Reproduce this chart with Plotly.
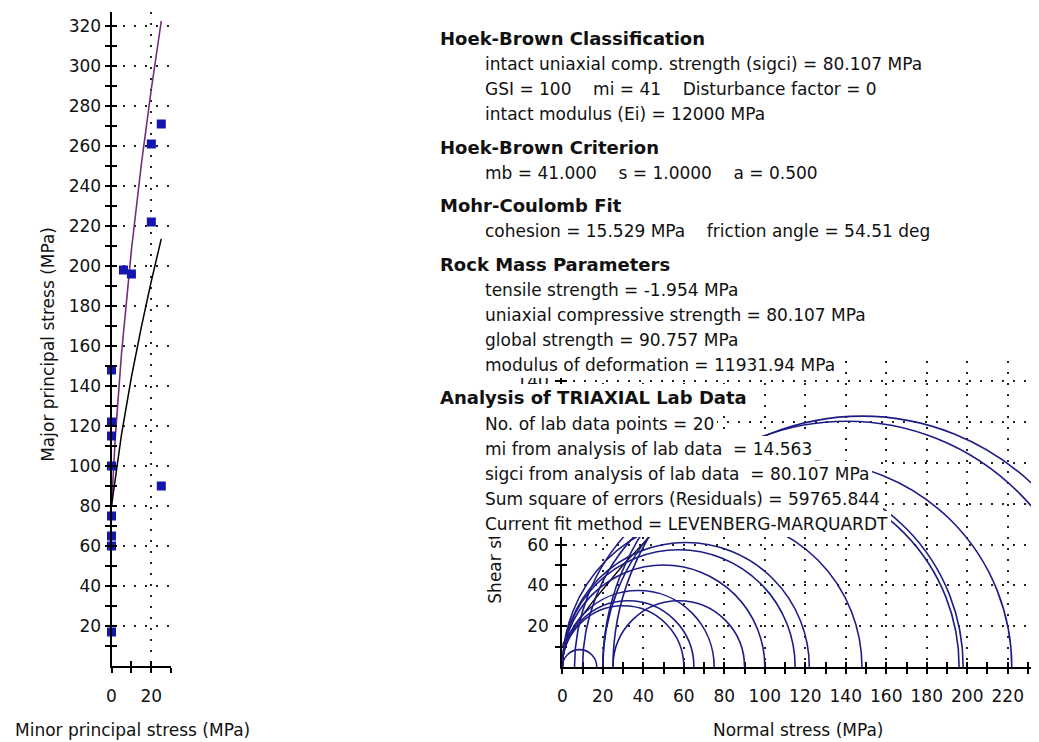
import plotly.graph_objects as go

W, H = 1039, 742
OX, OY = 8, 8  # the page body margin shifts the figure by this much

# triaxial lab data: minor / major principal stress (MPa)
sig3 = [0, 0, 0, 0, 0, 0, 0, 0, 6, 10, 25, 20, 20, 25]
sig1 = [17, 60, 65, 75, 100, 115, 122, 148, 198, 196, 90, 222, 261, 271]

# Hoek-Brown criterion curve (mb = 41)
hb_s3 = [0, 2, 5, 10, 15, 20, 25]
hb_s1 = [80.1, 116, 156, 208, 251, 288.5, 322.5]

# curve fitted to the lab data (mi = 14.563)
fit_s3 = [0, 2.5, 5, 10, 15, 20, 25]
fit_s1 = [80.1, 99, 115.7, 144.5, 169.6, 192.5, 213.6]

# failure envelope in the Mohr plot (normal, shear)
env_sn = [-1.5, 0, 6, 15, 30, 45]
env_tau = [8, 11, 20, 32, 50, 66]

info_heads = ["Hoek-Brown Classification", "Hoek-Brown Criterion", "Mohr-Coulomb Fit",
              "Rock Mass Parameters", "Analysis of TRIAXIAL Lab Data"]
S4 = "\u00a0" * 4
info_lines = [
    ["intact uniaxial comp. strength (sigci) = 80.107 MPa",
     "GSI = 100" + S4 + "mi = 41" + S4 + "Disturbance factor = 0",
     "intact modulus (Ei) = 12000 MPa"],
    ["mb = 41.000" + S4 + "s = 1.0000" + S4 + "a = 0.500"],
    ["cohesion = 15.529 MPa" + S4 + "friction angle = 54.51 deg"],
    ["tensile strength = -1.954 MPa", "uniaxial compressive strength = 80.107 MPa",
     "global strength = 90.757 MPa", "modulus of deformation = 11931.94 MPa"],
    ["No. of lab data points = 20", "mi from analysis of lab data\u00a0 = 14.563",
     "sigci from analysis of lab data\u00a0 = 80.107 MPa",
     "Sum square of errors (Residuals) = 59765.844",
     "Current fit method = LEVENBERG-MARQUARDT"],
]
head_y = [38, 147, 205, 264, 398]

PURPLE = "#762a7e"
BLUE = "#1414b0"
CIRCLE = "#1c1c86"
GRID = "#222222"
TXT = "#111111"


def px(x):
    return (x - OX) / W


def py(y):
    return 1 - (y - OY) / H


fig = go.Figure()

# left plot: principal stresses
fig.add_trace(go.Scatter(x=hb_s3, y=hb_s1, mode="lines", line=dict(color=PURPLE, width=1.6),
                         xaxis="x", yaxis="y", hoverinfo="skip"))
fig.add_trace(go.Scatter(x=fit_s3, y=fit_s1, mode="lines", line=dict(color="black", width=1.5),
                         xaxis="x", yaxis="y", hoverinfo="skip"))
fig.add_trace(go.Scatter(x=sig3, y=sig1, mode="markers",
                         marker=dict(symbol="square", size=9, color=BLUE, line=dict(width=0)),
                         xaxis="x", yaxis="y", cliponaxis=False))

# right plot: Mohr circles
fig.add_trace(go.Scatter(x=env_sn, y=env_tau, mode="lines", line=dict(color="black", width=1.3),
                         xaxis="x2", yaxis="y2", hoverinfo="skip"))
for s3, s1 in zip(sig3, sig1):
    r = (s1 - s3) / 2
    fig.add_shape(type="circle", xref="x2", yref="y2", x0=s3, x1=s1, y0=-r, y1=r,
                  line=dict(color=CIRCLE, width=1.6), layer="above")

# dummy traces so the overlay axes (inner half of the tick crosses) get drawn
fig.add_trace(go.Scatter(x=[None], y=[None], xaxis="x3", yaxis="y3", hoverinfo="skip"))
fig.add_trace(go.Scatter(x=[None], y=[None], xaxis="x4", yaxis="y4", hoverinfo="skip"))

base = dict(showline=True, linecolor="black", linewidth=2, ticks="outside", ticklen=5,
            tickwidth=1.5, tickcolor="black", showgrid=True, gridcolor=GRID, griddash="2px,9px",
            gridwidth=2, zeroline=False, tickfont=dict(size=17, color=TXT), fixedrange=True)
inner = dict(showline=False, ticks="inside", ticklen=5, tickwidth=1.5, tickcolor="black",
             showgrid=False, zeroline=False, showticklabels=False, fixedrange=True)

left_x = dict(range=[0, 30], tickvals=[0, 20])
left_xm = [10, 30]
left_y = dict(range=[0, 327], tickvals=list(range(20, 321, 20)))
left_ym = list(range(10, 321, 20))
right_x = dict(range=[0, 239.4], tickvals=list(range(0, 221, 20)))
right_xm = list(range(10, 236, 20))
right_y = dict(range=[0, 150], tickvals=list(range(20, 141, 20)))
right_ym = list(range(10, 141, 20))

dl_x = [px(107), px(167)]
dl_y = [py(666), py(12)]
dr_x = [px(560), 1.0]
dr_y = [py(667), py(361)]

fig.update_layout(
    width=W, height=H, margin=dict(l=0, r=0, t=0, b=0),
    plot_bgcolor="white", paper_bgcolor="white", showlegend=False,
    font=dict(family="DejaVu Sans", size=17, color=TXT),
    xaxis=dict(base, **left_x, domain=dl_x, anchor="y", ticklabelstandoff=9,
               minor=dict(tickvals=left_xm, ticks="outside", ticklen=5, tickcolor="black", showgrid=False)),
    yaxis=dict(base, **left_y, domain=dl_y, anchor="x",
               minor=dict(tickvals=left_ym, ticks="outside", ticklen=5, tickcolor="black", showgrid=False)),
    xaxis2=dict(base, **right_x, domain=dr_x, anchor="y2", ticklabelstandoff=8,
                minor=dict(tickvals=right_xm, ticks="outside", ticklen=5, tickcolor="black", showgrid=False)),
    yaxis2=dict(base, **right_y, domain=dr_y, anchor="x2", ticklabelstandoff=3,
                minor=dict(tickvals=right_ym, ticks="outside", ticklen=5, tickcolor="black", showgrid=False)),
    xaxis3=dict(inner, **left_x, overlaying="x", anchor="y3",
                minor=dict(tickvals=left_xm, ticks="inside", ticklen=5, tickcolor="black")),
    yaxis3=dict(inner, **left_y, overlaying="y", anchor="x3",
                minor=dict(tickvals=left_ym, ticks="inside", ticklen=5, tickcolor="black")),
    xaxis4=dict(inner, **right_x, overlaying="x2", anchor="y4",
                minor=dict(tickvals=right_xm, ticks="inside", ticklen=5, tickcolor="black")),
    yaxis4=dict(inner, **right_y, overlaying="y2", anchor="x4",
                minor=dict(tickvals=right_ym, ticks="inside", ticklen=5, tickcolor="black")),
)

# axis titles
fig.add_annotation(text="Major principal stress (MPa)", x=px(43), y=py(344), xref="paper", yref="paper",
                   textangle=-90, showarrow=False, xanchor="center", yanchor="middle")
fig.add_annotation(text="Minor principal stress (MPa)", x=px(10), y=py(730), xref="paper", yref="paper",
                   showarrow=False, xanchor="left", yanchor="middle", borderpad=0, borderwidth=0)
fig.add_annotation(text="Normal stress (MPa)", x=px(797), y=py(730), xref="paper", yref="paper",
                   showarrow=False, xanchor="center", yanchor="middle")
fig.add_annotation(text="Shear stress (MPa)", x=px(492), y=py(525), xref="paper", yref="paper",
                   textangle=-90, showarrow=False, xanchor="center", yanchor="middle")

# results text block, each line on an opaque white strip
PAD = 3
for head, lines, hy in zip(info_heads, info_lines, head_y):
    fig.add_annotation(text="<b>" + head + "</b>", x=px(437 - PAD), y=py(hy), xref="paper", yref="paper",
                       showarrow=False, xanchor="left", yanchor="middle", bgcolor="white", borderpad=PAD,
                       borderwidth=0, font=dict(size=18, color=TXT))
    for i, line in enumerate(lines):
        ly = hy + 26 + 25 * i
        fig.add_annotation(text=line, x=px(482 - PAD), y=py(ly), xref="paper", yref="paper",
                           showarrow=False, xanchor="left", yanchor="middle", bgcolor="white", borderpad=PAD,
                           borderwidth=0, font=dict(size=17, color=TXT))

fig.write_html("out.html")
